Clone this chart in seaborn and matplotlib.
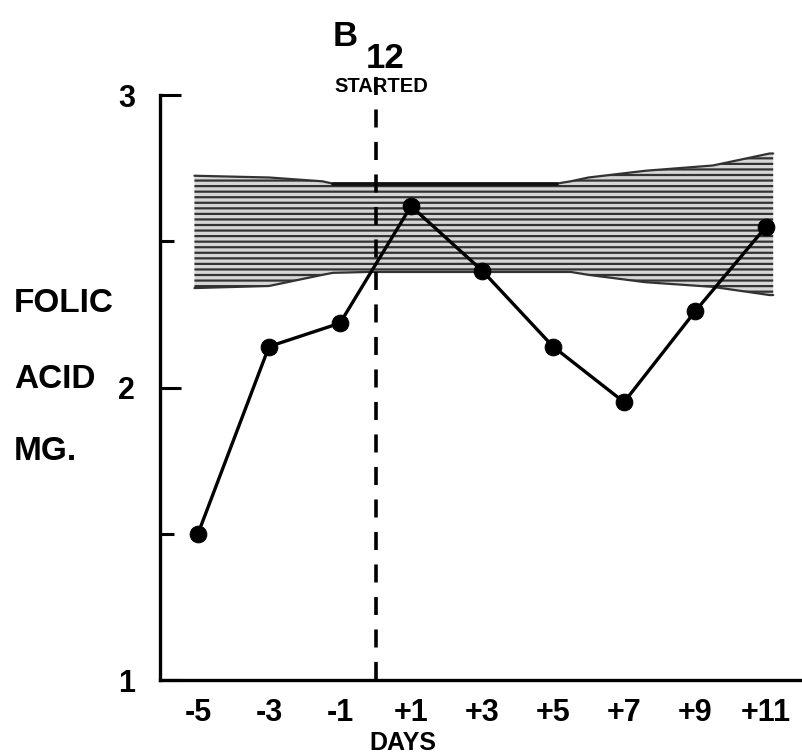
import matplotlib
matplotlib.use("Agg")
import matplotlib.pyplot as plt
import seaborn as sns
import pandas as pd
import numpy as np

# ---- data ----
days = [-5, -3, -1, 1, 3, 5, 7, 9, 11]
folic = [1.50, 2.14, 2.22, 2.62, 2.40, 2.14, 1.95, 2.26, 2.55]
xtick_labels = ["-5", "-3", "-1", "+1", "+3", "+5", "+7", "+9", "+11"]

band_days = [-5.1, -3.0, -1.5, -1.2, -0.2, 5.1, 5.5, 6.0, 7.6, 9.5, 11.1, 11.2]
band_top = [2.724, 2.718, 2.705, 2.697, 2.697, 2.697, 2.705, 2.718, 2.741, 2.759, 2.80, 2.80]
band_bot = [2.340, 2.347, 2.385, 2.392, 2.395, 2.395, 2.395, 2.385, 2.360, 2.344, 2.316, 2.316]

b12_day = 0

sns.set_theme(style="white")
plt.rcParams["font.family"] = ["Liberation Sans", "DejaVu Sans"]
plt.rcParams["hatch.linewidth"] = 1.6
for k in ["text.color", "xtick.color", "ytick.color", "axes.labelcolor"]:
    plt.rcParams[k] = "black"

W, H = 803, 755
fig = plt.figure(figsize=(W / 100, H / 100), dpi=100)
ax = fig.add_axes([160 / W, 1 - 680 / H, 1 - 160 / W, (680 - 95) / H])

# normal range band
ax.fill_between(band_days, band_bot, band_top, facecolor="#d6d6d6",
                hatch="---", edgecolor="#333333", linewidth=0, zorder=1)
ax.plot(band_days, band_top, color="#333333", lw=1.6, zorder=2)
ax.plot(band_days, band_bot, color="#333333", lw=1.6, zorder=2)
ax.plot(band_days[3:6], band_top[3:6], color="#111111", lw=2.6, zorder=2)

df = pd.DataFrame({"day": days, "folic": folic})
sns.lineplot(data=df, x="day", y="folic", ax=ax, color="black", lw=2.4,
             marker="o", markersize=12, markeredgecolor="black", zorder=4)

# B12 started line
ax.plot([b12_day, b12_day], [1.0, 3.07], color="black", lw=2.6,
        linestyle=(0, (5, 4)), clip_on=False, zorder=3)

ax.set_xlim(-6.07, 12.04)
ax.set_ylim(1, 3)
ax.set_xticks(days)
ax.set_xticklabels(xtick_labels, fontsize=22, fontweight="bold")
ax.set_yticks([1, 2, 3])
ax.set_yticklabels(["1", "2", "3"], fontsize=22, fontweight="bold")
ax.set_yticks([1.5, 2.5], minor=True)
ax.tick_params(axis="x", length=0, pad=13)
ax.tick_params(axis="y", which="major", direction="in", length=15, width=2.2,
               color="black", pad=18, left=True)
ax.tick_params(axis="y", which="minor", direction="in", length=10, width=2.2,
               color="black", left=True)
ax.set_xlabel("")
ax.set_ylabel("")
for s in ["top", "right"]:
    ax.spines[s].set_visible(False)
for s in ["left", "bottom"]:
    ax.spines[s].set_linewidth(2.4)
    ax.spines[s].set_color("black")

# texts
fig.text(403 / W, 1 - 743 / H, "DAYS", fontsize=18, fontweight="bold", ha="center", va="center")
fig.text(14 / W, 1 - 303 / H, "FOLIC", fontsize=24, fontweight="bold", ha="left", va="center")
fig.text(14 / W, 1 - 380 / H, "ACID", fontsize=24, fontweight="bold", ha="left", va="center")
fig.text(14 / W, 1 - 452 / H, "MG.", fontsize=24, fontweight="bold", ha="left", va="center")
fig.text(345 / W, 1 - 36 / H, "B", fontsize=25, fontweight="bold", ha="center", va="center")
fig.text(385 / W, 1 - 58 / H, "12", fontsize=25, fontweight="bold", ha="center", va="center")
fig.text(381 / W, 1 - 86 / H, "STARTED", fontsize=14.5, fontweight="bold", ha="center", va="center")

fig.savefig("out.png", dpi=100)
